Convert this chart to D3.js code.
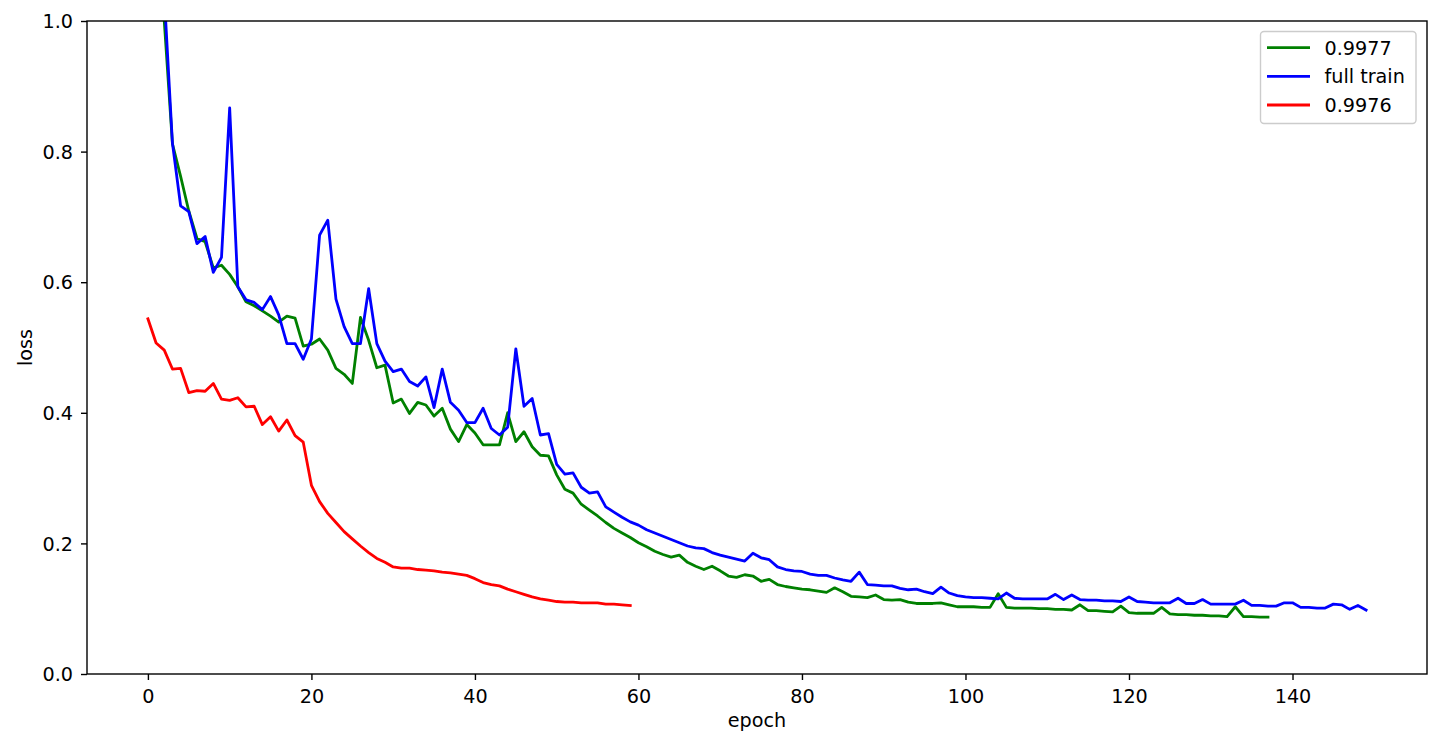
<!DOCTYPE html>
<html>
<head>
<meta charset="utf-8">
<script src="https://cdn.jsdelivr.net/npm/d3@7"></script>
<style>
  html, body { margin: 0; padding: 0; background: #fff; }
  svg { display: block; font-family: "DejaVu Sans", sans-serif; }
</style>
</head>
<body>
<svg id="chart" width="1444" height="748"></svg>
<script>
// ---- data ----
const seriesNames = ["0.9977", "full train", "0.9976"];
const seriesColors = ["#008000", "#0000ff", "#ff0000"];

const greenStart = 2;
const greenLoss = [
  1.0, 0.812, 0.762, 0.709, 0.667, 0.662, 0.622, 0.626, 0.612, 0.593,
  0.570, 0.564, 0.556, 0.548, 0.539, 0.548, 0.545, 0.502, 0.505, 0.513,
  0.496, 0.468, 0.459, 0.445, 0.546, 0.511, 0.469, 0.473, 0.415, 0.421,
  0.399, 0.416, 0.412, 0.395, 0.407, 0.375, 0.356, 0.382, 0.369, 0.351,
  0.351, 0.351, 0.400, 0.356, 0.371, 0.348, 0.335, 0.334, 0.305, 0.283,
  0.277, 0.260, 0.251, 0.242, 0.232, 0.223, 0.216, 0.209, 0.201, 0.195,
  0.188, 0.183, 0.179, 0.182, 0.171, 0.165, 0.160, 0.165, 0.158, 0.150,
  0.148, 0.152, 0.150, 0.142, 0.145, 0.137, 0.134, 0.132, 0.130, 0.129,
  0.127, 0.125, 0.132, 0.126, 0.119, 0.118, 0.117, 0.121, 0.114, 0.113,
  0.114, 0.110, 0.108, 0.108, 0.108, 0.109, 0.106, 0.103, 0.103, 0.103,
  0.102, 0.102, 0.123, 0.102, 0.101, 0.101, 0.101, 0.100, 0.100, 0.099,
  0.099, 0.098, 0.106, 0.097, 0.097, 0.096, 0.095, 0.104, 0.094, 0.093,
  0.093, 0.093, 0.102, 0.092, 0.091, 0.091, 0.090, 0.090, 0.089, 0.089,
  0.088, 0.103, 0.088, 0.088, 0.087, 0.087
];

const blueStart = 2;
const blueLoss = [
  1.04, 0.813, 0.717, 0.708, 0.659, 0.670, 0.615, 0.638, 0.867, 0.593,
  0.573, 0.569, 0.558, 0.578, 0.550, 0.506, 0.506, 0.482, 0.513, 0.672,
  0.695, 0.574, 0.532, 0.506, 0.506, 0.590, 0.506, 0.479, 0.463, 0.467,
  0.448, 0.441, 0.455, 0.408, 0.467, 0.416, 0.404, 0.385, 0.385, 0.407,
  0.376, 0.366, 0.378, 0.498, 0.410, 0.422, 0.366, 0.368, 0.321, 0.306,
  0.308, 0.286, 0.277, 0.279, 0.256, 0.248, 0.240, 0.233, 0.228, 0.221,
  0.216, 0.211, 0.206, 0.201, 0.196, 0.193, 0.192, 0.186, 0.182, 0.179,
  0.176, 0.173, 0.185, 0.178, 0.175, 0.164, 0.160, 0.158, 0.157, 0.153,
  0.151, 0.151, 0.147, 0.144, 0.142, 0.156, 0.137, 0.136, 0.135, 0.135,
  0.131, 0.129, 0.130, 0.126, 0.123, 0.133, 0.124, 0.120, 0.118, 0.117,
  0.117, 0.116, 0.115, 0.124, 0.116, 0.115, 0.115, 0.115, 0.115, 0.122,
  0.114, 0.121, 0.114, 0.113, 0.113, 0.112, 0.112, 0.111, 0.118, 0.111,
  0.110, 0.109, 0.109, 0.109, 0.116, 0.108, 0.108, 0.114, 0.107, 0.107,
  0.107, 0.107, 0.113, 0.105, 0.105, 0.104, 0.104, 0.109, 0.109, 0.102,
  0.102, 0.101, 0.101, 0.107, 0.106, 0.099, 0.105, 0.098
];

const redStart = 0;
const redLoss = [
  0.544, 0.507, 0.496, 0.467, 0.468, 0.431, 0.434, 0.433, 0.445, 0.421,
  0.419, 0.423, 0.409, 0.410, 0.382, 0.394, 0.372, 0.389, 0.365, 0.355,
  0.289, 0.264, 0.246, 0.232, 0.218, 0.207, 0.196, 0.186, 0.177, 0.171,
  0.164, 0.162, 0.162, 0.160, 0.159, 0.158, 0.156, 0.155, 0.153, 0.151,
  0.146, 0.140, 0.137, 0.135, 0.130, 0.126, 0.122, 0.118, 0.115, 0.113,
  0.111, 0.110, 0.110, 0.109, 0.109, 0.109, 0.107, 0.107, 0.106, 0.105
];

const xTicks = [0, 20, 40, 60, 80, 100, 120, 140];
const yTicks = [0.0, 0.2, 0.4, 0.6, 0.8, 1.0];
const xLabel = "epoch";
const yLabel = "loss";

// ---- layout ----
const svg = d3.select("#chart");
const plotL = 87, plotR = 1427, plotT = 21, plotB = 674;
const fontSize = 19.2;

const x = d3.scaleLinear().domain([-7.45, 156.45]).range([plotL, plotR]);
const y = d3.scaleLinear().domain([0, 1]).range([plotB, plotT]);

function toPoints(start, vals) {
  return vals.map((v, i) => ({ e: start + i, v: v }));
}
const series = [
  { name: seriesNames[0], color: seriesColors[0], pts: toPoints(greenStart, greenLoss) },
  { name: seriesNames[1], color: seriesColors[1], pts: toPoints(blueStart, blueLoss) },
  { name: seriesNames[2], color: seriesColors[2], pts: toPoints(redStart, redLoss) }
];

svg.append("defs").append("clipPath").attr("id", "clip")
  .append("rect").attr("x", plotL).attr("y", plotT)
  .attr("width", plotR - plotL).attr("height", plotB - plotT);

const line = d3.line().x(d => x(d.e)).y(d => y(d.v));
const plot = svg.append("g").attr("clip-path", "url(#clip)");
series.forEach(s => {
  plot.append("path").datum(s.pts)
    .attr("d", line)
    .attr("fill", "none")
    .attr("stroke", s.color)
    .attr("stroke-width", 2.8)
    .attr("stroke-linejoin", "round")
    .attr("stroke-linecap", "square");
});

// axes
const xAxis = d3.axisBottom(x).tickValues(xTicks).tickSize(6).tickPadding(5.5)
  .tickFormat(d3.format("d"));
const gx = svg.append("g").attr("transform", `translate(0,${plotB})`).call(xAxis);
const yAxis = d3.axisLeft(y).tickValues(yTicks).tickSize(6).tickPadding(8)
  .tickFormat(d3.format(".1f"));
const gy = svg.append("g").attr("transform", `translate(${plotL},0)`).call(yAxis);
[gx, gy].forEach(g => {
  g.select(".domain").remove();
  g.selectAll(".tick line").attr("stroke", "#000").attr("stroke-width", 1.4);
  g.selectAll(".tick text").attr("fill", "#000")
    .style("font-family", "DejaVu Sans").style("font-size", fontSize + "px");
});
gx.selectAll(".tick text").attr("dy", null).attr("y", 28.5);
gy.selectAll(".tick text").attr("dy", "0.35em");

// frame
svg.append("rect").attr("x", plotL).attr("y", plotT)
  .attr("width", plotR - plotL).attr("height", plotB - plotT)
  .attr("fill", "none").attr("stroke", "#000").attr("stroke-width", 1.4);

// axis labels
svg.append("text").attr("x", (plotL + plotR) / 2).attr("y", 727)
  .attr("text-anchor", "middle").style("font-size", fontSize + "px").text(xLabel);
svg.append("text")
  .attr("transform", `translate(31.5,${(plotT + plotB) / 2}) rotate(-90)`)
  .attr("text-anchor", "middle").style("font-size", fontSize + "px").text(yLabel);

// legend
const lg = svg.append("g");
lg.append("rect").attr("x", 1260.5).attr("y", 31.5).attr("width", 155.5).attr("height", 92)
  .attr("rx", 3.5).attr("fill", "#fff").attr("fill-opacity", 0.8)
  .attr("stroke", "#cccccc").attr("stroke-width", 1.4);
const rowY = [47.7, 76.3, 105];
series.forEach((s, i) => {
  lg.append("line").attr("x1", 1267).attr("x2", 1310)
    .attr("y1", rowY[i]).attr("y2", rowY[i])
    .attr("stroke", s.color).attr("stroke-width", 2.8);
  lg.append("text").attr("x", 1324.5).attr("y", rowY[i]).attr("dy", "0.36em")
    .style("font-size", fontSize + "px").text(s.name);
});
</script>
</body>
</html>
